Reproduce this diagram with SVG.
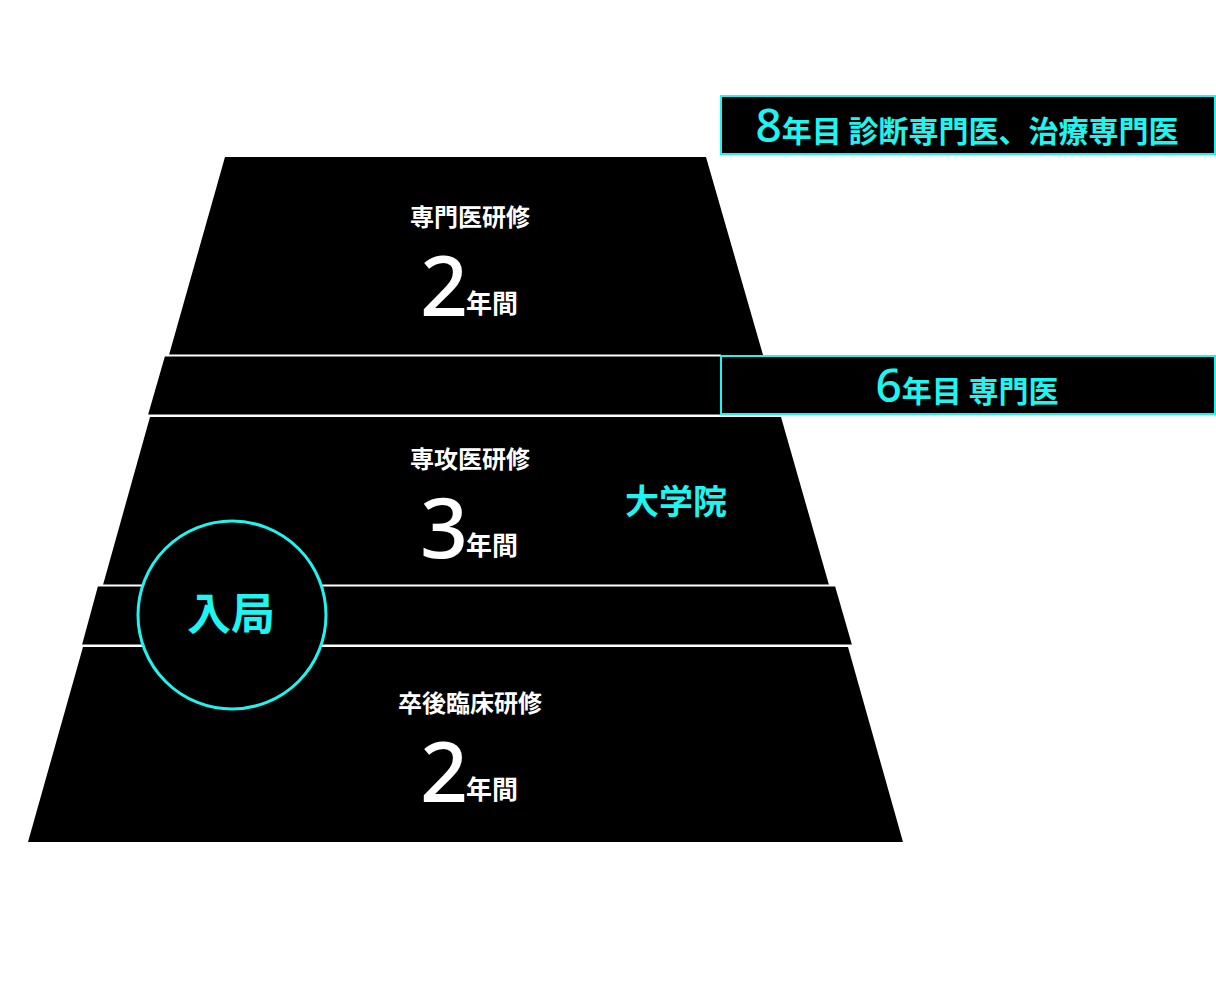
<svg xmlns="http://www.w3.org/2000/svg" width="1216" height="1000" viewBox="0 0 1216 1000">
<style>
text{font-family:"Noto Sans CJK JP","Noto Sans",sans-serif;font-weight:bold}
.t{fill:#fff;font-size:24px;text-anchor:middle}
.n{fill:#fff;font-size:84px;font-weight:500;font-family:"Noto Sans","Noto Sans CJK JP",sans-serif}
.y{fill:#fff;font-size:26px}
.c{fill:#1ff5f0}
.box{fill:#000;stroke:#1ff5f0;stroke-width:2}
</style>
<rect width="1216" height="1000" fill="#fff"/>
<g id="bands">
<polygon points="165,356 852,356 838,415 148,415" fill="#000"/>
<polygon points="98,586 835,586 852,645 82,645" fill="#000"/>
</g>
<g id="tier1">
<polygon points="225,157 706,157 763,355 169,355" fill="#000"/>
<text class="t" x="470" y="226">専門医研修</text>
<text class="n" x="420" y="316">2</text><text class="y" x="466" y="313">年間</text>
</g>
<g id="tier2">
<polygon points="150,417 781,417 829,585 103,585" fill="#000"/>
<text class="t" x="470" y="468">専攻医研修</text>
<text class="n" x="420" y="558">3</text><text class="y" x="466" y="555">年間</text>
<text class="c" x="676" y="514" font-size="34" text-anchor="middle">大学院</text>
</g>
<g id="tier3">
<polygon points="83,647 848,647 903,842 28,842" fill="#000"/>
<text class="t" x="470" y="712">卒後臨床研修</text>
<text class="n" x="420" y="802">2</text><text class="y" x="466" y="799">年間</text>
</g>
<g id="lines">
<line x1="148" y1="355.5" x2="721" y2="355.5" stroke="#fff" stroke-width="2"/>
<line x1="148" y1="415.5" x2="721" y2="415.5" stroke="#fff" stroke-width="2"/>
<line x1="98" y1="585.5" x2="835" y2="585.5" stroke="#fff" stroke-width="2"/>
<line x1="82" y1="645.5" x2="852" y2="645.5" stroke="#fff" stroke-width="2"/>
</g>
<g id="nyukyoku">
<circle cx="232" cy="615" r="94" fill="#000" stroke="#1ff5f0" stroke-width="3"/>
<text class="c" x="231" y="630" font-size="44" text-anchor="middle">入局</text>
</g>
<g id="year8">
<rect class="box" x="721" y="96" width="494" height="58"/>
<text class="c" x="967" y="142" text-anchor="middle"><tspan font-size="46" font-family="Noto Sans,sans-serif" font-weight="500">8</tspan><tspan font-size="30">年目 診断専門医、治療専門医</tspan></text>
</g>
<g id="year6">
<rect class="box" x="721" y="356" width="494" height="58"/>
<text class="c" x="967" y="402" text-anchor="middle"><tspan font-size="46" font-family="Noto Sans,sans-serif" font-weight="500">6</tspan><tspan font-size="30">年目 専門医</tspan></text>
</g>
</svg>
